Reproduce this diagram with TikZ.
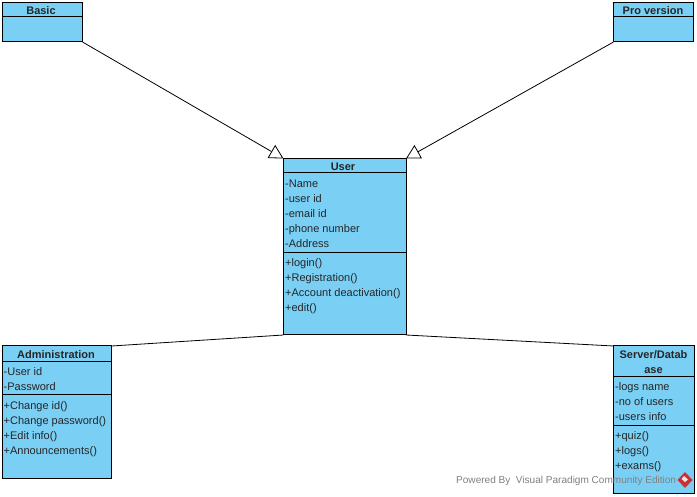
\documentclass[tikz,border=0pt]{standalone}
\usepackage{fontspec}
\setmainfont{Liberation Sans}
\usetikzlibrary{arrows.meta}
\definecolor{classblue}{RGB}{122,207,245}
\definecolor{markred}{RGB}{200,50,55}
\tikzset{
    classbox/.style={draw=black, fill=classblue, line width=1pt, inner sep=0pt, outer sep=0pt},
    classname/.style={font=\fontsize{11}{15}\selectfont\bfseries, align=center, inner sep=0pt, text=black!85},
    members/.style={font=\fontsize{11}{15}\selectfont, align=left, anchor=north west, inner sep=0pt, text=black!85},
    extends/.style={draw=black, line width=0.8pt, -{Triangle[open, fill=white, length=14pt, width=15pt]}},
    assoc/.style={draw=black, line width=0.8pt}
}
\begin{document}
\begin{tikzpicture}[x=1pt, y=-1pt]
    \useasboundingbox (0,0) rectangle (697,497);

    % Class boxes
    \node[classbox, anchor=north west, minimum width=80pt, minimum height=39.5pt] (Basic) at (2.5,2.5) {};
    \node[classbox, anchor=north west, minimum width=80pt, minimum height=39.5pt] (Pro) at (613.5,2.5) {};
    \node[classbox, anchor=north west, minimum width=122.5pt, minimum height=176.5pt] (User) at (283.5,158.5) {};
    \node[classbox, anchor=north west, minimum width=109.5pt, minimum height=132pt] (Admin) at (2,346) {};
    \node[classbox, anchor=north west, minimum width=80.5pt, minimum height=147pt] (Server) at (613.5,346) {};

    % Compartment lines
    \draw[line width=1pt] (2.5,17) -- (82.5,17);
    \draw[line width=1pt] (613.5,17) -- (693.5,17);
    \draw[line width=1pt] (283.5,173) -- (406,173);
    \draw[line width=1pt] (283.5,252.5) -- (406,252.5);
    \draw[line width=1pt] (2,362) -- (111.5,362);
    \draw[line width=1pt] (2,395) -- (111.5,395);
    \draw[line width=1pt] (613.5,376.5) -- (694,376.5);
    \draw[line width=1pt] (613.5,425) -- (694,425);

    % Class names
    \node[classname] (BasicName) at (41,10.5) {Basic};
    \node[classname] (ProName) at (653,10.5) {Pro version};
    \node[classname] (UserName) at (343,166.5) {User};
    \node[classname] (AdminName) at (56,354.5) {Administration};
    \node[classname] (ServerName) at (653.5,362) {Server/Datab\\ase};

    % Attributes and operations
    \node[members] (UserAttrs) at (285,180) {-Name\\-user id\\-email id\\-phone number\\-Address};
    \node[members] (UserOps) at (285,258) {+login()\\+Registration()\\+Account deactivation()\\+edit()};
    \node[members] (AdminAttrs) at (3.5,367.5) {-User id\\-Password};
    \node[members] (AdminOps) at (3.5,401.5) {+Change id()\\+Change password()\\+Edit info()\\+Announcements()};
    \node[members] (ServerAttrs) at (615,382) {-logs name\\-no of users\\-users info};
    \node[members] (ServerOps) at (615,431) {+quiz()\\+logs()\\+exams()};

    % Connectors
    \draw[extends] (Basic.south east) -- (User.north west);
    \draw[extends] (Pro.south west) -- (User.north east);
    \draw[assoc] (User.south west) -- (Admin.north east);
    \draw[assoc] (User.south east) -- (Server.north west);

    % Watermark
    \node[anchor=west, inner sep=0pt, text=black!50, font=\fontsize{10.05}{12}\selectfont] (Mark) at (456,481) {Powered By\ \ Visual Paradigm Community Edition};
    \fill[markred] (685,472) -- (692.5,480) -- (685,488) -- (677.5,480) -- cycle;
    \fill[white!85!markred] (684,476) -- (688,479.5) -- (685,482) -- (681.5,479) -- cycle;
\end{tikzpicture}
\end{document}
